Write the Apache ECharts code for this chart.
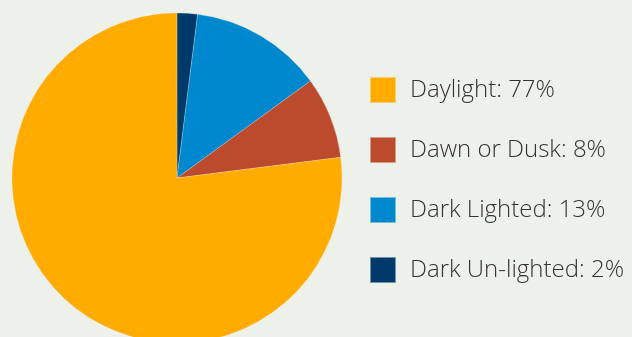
<!DOCTYPE html>
<html>
<head>
<meta charset="utf-8">
<script src="https://cdn.jsdelivr.net/npm/echarts@6/dist/echarts.min.js"></script>
<style>
  html, body { margin: 0; padding: 0; background: #eef0ea; }
  #chart { width: 632px; height: 337px; }
</style>
</head>
<body>
<div id="chart"></div>
<script>
// slices clockwise from 12 o'clock
const names = ['Dark Un-lighted', 'Dark Lighted', 'Dawn or Dusk', 'Daylight'];
const values = [2, 13, 8, 77];
const colors = ['#003a6b', '#0088cf', '#bc4a2c', '#ffab00'];
const legendOrder = ['Daylight', 'Dawn or Dusk', 'Dark Lighted', 'Dark Un-lighted'];

var myChart = echarts.init(document.getElementById('chart'), null, { renderer: 'canvas' });

const data = names.map((n, i) => ({ name: n, value: values[i], itemStyle: { color: colors[i] } }));

var option = {
  backgroundColor: '#eef0ea',
  animation: false,
  legend: {
    orient: 'vertical',
    left: 369,
    top: 76,
    padding: 0,
    icon: 'rect',
    itemWidth: 26,
    itemHeight: 26,
    itemGap: 32,
    data: legendOrder,
    formatter: function (name) {
      return name + ': ' + values[names.indexOf(name)] + '%';
    },
    textStyle: {
      fontFamily: 'Open Sans',
      fontWeight: 300,
      fontSize: 24,
      lineHeight: 26,
      color: '#333',
      padding: [0, 0, 0, 9]
    }
  },
  series: [
    {
      type: 'pie',
      center: [177, 178],
      radius: 165,
      startAngle: 90,
      clockwise: true,
      label: { show: false },
      labelLine: { show: false },
      itemStyle: { borderColor: 'rgba(238,240,234,0.5)', borderWidth: 0.5 },
      emphasis: { disabled: true },
      data: data
    }
  ]
};

option && myChart.setOption(option);
</script>
</body>
</html>
